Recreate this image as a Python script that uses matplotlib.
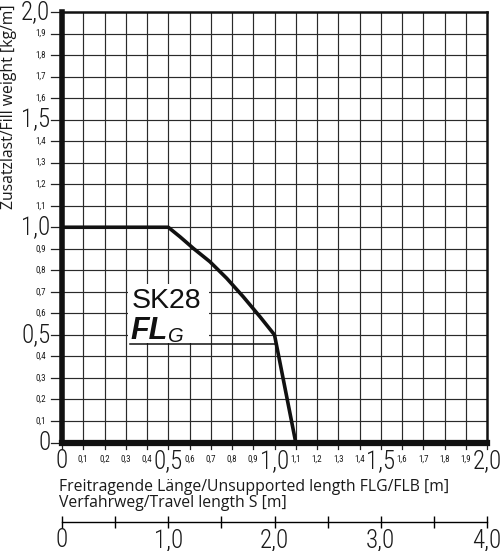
import matplotlib
matplotlib.use("Agg")
import matplotlib.pyplot as plt
import numpy as np
from matplotlib.patches import Rectangle

# Data
curve_x = [0.0, 0.5, 0.555, 0.618, 0.696, 0.775, 0.853, 0.932, 1.0, 1.1]
curve_y = [1.0, 1.0, 0.956, 0.902, 0.84, 0.763, 0.677, 0.584, 0.5, 0.0]
major_vals = [0.0, 0.5, 1.0, 1.5, 2.0]
major_labels = ["0", "0,5", "1,0", "1,5", "2,0"]
minor_vals = [round(0.1 * i, 1) for i in range(1, 20) if i % 5 != 0]
minor_labels = [f"{v:.1f}".replace(".", ",") for v in minor_vals]
travel_vals = [0, 1, 2, 3, 4]
travel_labels = ["0", "1,0", "2,0", "3,0", "4,0"]
title_main = "SK28"
ylabel = "Zusatzlast/Fill weight [kg/m]"
xlabel1 = "Freitragende Länge/Unsupported length FLG/FLB [m]"
xlabel2 = "Verfahrweg/Travel length S [m]"

NARROW = ["Roboto Condensed", "Archivo Narrow", "PT Sans Narrow", "Abel", "DejaVu Sans"]
TEXTF = ["Open Sans", "DejaVu Sans"]
HELV = ["Arimo", "Liberation Sans", "DejaVu Sans"]
INK = "#1a1a1a"

W, H = 500, 551
fig = plt.figure(figsize=(W / 100, H / 100), dpi=100)
L, R, T, B = 62, 487, 12, 442.5
ax = fig.add_axes([L / W, 1 - B / H, (R - L) / W, (B - T) / H])
ax.set_xlim(0, 2)
ax.set_ylim(0, 2)

# grid
for v in np.arange(1, 20) * 0.1:
    ax.axvline(v, color="#2a2a2a", lw=0.85, zorder=0.5)
    ax.axhline(v, color="#2a2a2a", lw=0.85, zorder=0.5)

# spines
ax.spines["left"].set_linewidth(4.0)
ax.spines["bottom"].set_linewidth(4.5)
ax.spines["top"].set_linewidth(1.8)
ax.spines["right"].set_linewidth(1.8)
for s in ax.spines.values():
    s.set_color("#111111")
    s.set_zorder(5)

# ticks
ax.set_xticks([]); ax.set_yticks([])
ticks = sorted(major_vals + minor_vals)
for v in ticks:
    ax.plot([-0.05, 0], [v, v], color="#222222", lw=0.9, clip_on=False, zorder=4)
    ax.plot([v, v], [0, -0.03], color="#222222", lw=0.9, clip_on=False, zorder=4)

for v, lab in zip(major_vals, major_labels):
    ax.text(-0.055, v, lab, ha="right", va="center", fontsize=18, family=NARROW,
            fontweight="light", color=INK, clip_on=False)
    ax.text(v, -0.03, lab, ha="center", va="top", fontsize=18, family=NARROW,
            fontweight="light", color=INK, clip_on=False)
for v, lab in zip(minor_vals, minor_labels):
    ax.text(-0.075, v, lab, ha="right", va="center", fontsize=6.5, family=NARROW,
            color=INK, clip_on=False)
    ax.text(v, -0.058, lab, ha="center", va="top", fontsize=6.5, family=NARROW,
            color=INK, clip_on=False)

# curve
ax.plot(curve_x, curve_y, color="#111111", lw=2.6, solid_joinstyle="round",
        zorder=3, clip_on=False)

# label box
ax.add_patch(Rectangle((0.31, 0.46), 0.38, 0.275, facecolor="white", edgecolor="none", zorder=2))
ax.text(0.328, 0.623, title_main, fontsize=20.5, family=HELV,
        ha="left", va="baseline", zorder=3.5, color="#111111")
fl = ax.text(0.322, 0.479, "FL", fontsize=22, family=HELV,
             fontweight="bold", style="italic", ha="left", va="baseline", zorder=3.5,
             color="#111111")
ax.annotate("G", xy=(1, 0), xycoords=fl, xytext=(0.5, 0), textcoords="offset points",
            fontsize=14.5, family=HELV, style="italic",
            ha="left", va="bottom", zorder=3.5, color="#111111")
ax.plot([0.32, 1.005], [0.456, 0.456], color="#111111", lw=1.1, zorder=3.5)

# axis labels
fig.text(9 / W, 1 - 4 / H, ylabel, rotation=90, ha="center", va="top",
         fontsize=11.3, family=TEXTF, color=INK)
fig.text(59 / W, 1 - 487 / H, xlabel1, ha="left", va="center", fontsize=11.3,
         family=TEXTF, color=INK)
fig.text(59 / W, 1 - 503 / H, xlabel2, ha="left", va="center", fontsize=11.3,
         family=TEXTF, color=INK)

# travel axis
ax2 = fig.add_axes([L / W, 1 - 521.7 / H, (R - L) / W, 0.0001])
ax2.set_xlim(0, 4)
for s in ["left", "right", "top"]:
    ax2.spines[s].set_visible(False)
ax2.spines["bottom"].set_linewidth(1.0)
ax2.set_yticks([])
tpos = np.arange(0, 4.01, 0.5)
ax2.set_xticks(tpos)
ax2.set_xticklabels([travel_labels[int(v)] if v == int(v) else "" for v in tpos])
ax2.tick_params(axis="x", direction="inout", length=8, width=1.0, pad=0.5,
                labelsize=18)
for t in ax2.get_xticklabels():
    t.set_family(NARROW)
    t.set_fontweight("light")
    t.set_color(INK)
ax2.patch.set_visible(False)

fig.savefig("out.png", dpi=100)
